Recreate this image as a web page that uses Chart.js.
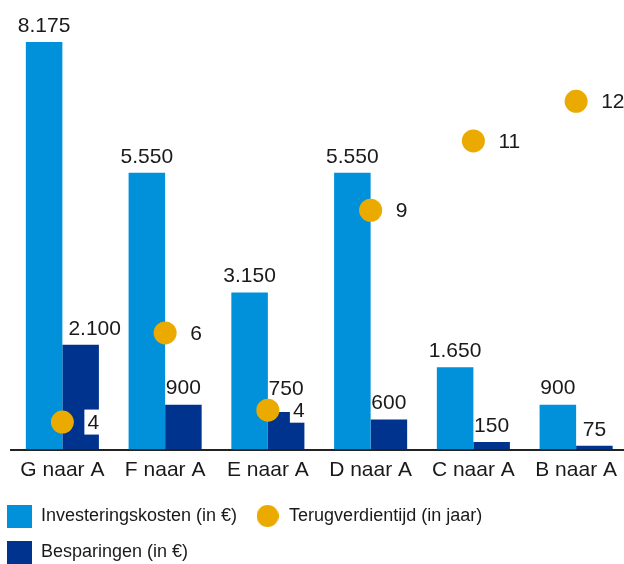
<!DOCTYPE html>
<html><head><meta charset="utf-8">
<script src="https://cdn.jsdelivr.net/npm/chart.js@4"></script>
<style>
html,body{margin:0;padding:0;overflow:hidden;background:#fff;width:624px;height:564px}
#wrap{position:absolute;left:-11px;top:0;width:650px;height:571px}
canvas{display:block}
</style></head><body>
<div id="wrap"><canvas id="c" width="650" height="571"></canvas></div>
<script>
const categories = ['G naar A','F naar A','E naar A','D naar A','C naar A','B naar A'];
const investeringskosten = [8175,5550,3150,5550,1650,900];
const besparingen = [2100,900,750,600,150,75];
const terugverdientijd = [3.9,6.15,4.2,9.25,11,12];
const seriesNames = ['Investeringskosten (in €)','Besparingen (in €)','Terugverdientijd (in jaar)'];
const colors = ['#0091DA','#00338D','#EAAA00'];

const TEXT = '#1a1a1a';
const FONT_FAMILY = '"Liberation Sans", Arial, sans-serif';

function fmt(v){ return String(v).replace(/\B(?=(\d{3})+(?!\d))/g,'.'); }
function swatch(color,w,h,round){
  const c=document.createElement('canvas'); c.width=w; c.height=h;
  const g=c.getContext('2d'); g.fillStyle=color;
  if(round){ g.beginPath(); g.arc(w/2,h/2,Math.min(w,h)/2,0,Math.PI*2); g.fill(); }
  else g.fillRect(0,0,w,h);
  return c;
}
const sw = [swatch(colors[0],25,23,false), swatch(colors[1],25,23,false), swatch(colors[2],22,22,true)];

const labelPlugin = {
  id:'valueLabels',
  afterDatasetsDraw(chart){
    const ctx = chart.ctx;
    ctx.save();
    ctx.font = '21px ' + FONT_FAMILY;
    ctx.textBaseline = 'middle';
    const pm = chart.getDatasetMeta(2);
    const r = 11.5;
    pm.data.forEach((p,i)=>{
      const txt = String(Math.round(terugverdientijd[i]));
      const w = ctx.measureText(txt).width;
      const x = p.x + 25, y = p.y;
      ctx.fillStyle = '#fff';
      ctx.fillRect(x-3, y-12.5, w+5, 25);
      ctx.fillStyle = TEXT; ctx.textAlign = 'left';
      ctx.fillText(txt, x, y+1);
    });
    [0,1].forEach(di=>{
      const meta = chart.getDatasetMeta(di);
      meta.data.forEach((bar,i)=>{
        const txt = fmt(chart.data.datasets[di].data[i]);
        const w = ctx.measureText(txt).width;
        const bw = bar.width, left = bar.x - bw/2;
        let x = bar.x;
        if (di===1 && w > bw) x = left + 6 + w/2;
        let y = bar.y - 16;
        const p = pm.data[i];
        if (p && Math.abs(p.x-x) < w/2 + r && Math.abs(p.y-y) < 8 + r) y = p.y - r - 9;
        ctx.fillStyle = TEXT; ctx.textAlign = 'center';
        ctx.fillText(txt, x, y);
      });
    });
    ctx.restore();
  }
};

new Chart(document.getElementById('c'), {
  type:'bar',
  data:{
    labels: categories,
    datasets:[
      {label:seriesNames[0], data:investeringskosten, backgroundColor:colors[0], borderWidth:0, yAxisID:'y', order:1, categoryPercentage:0.711, barPercentage:1},
      {label:seriesNames[1], data:besparingen, backgroundColor:colors[1], borderWidth:0, yAxisID:'y', order:1, categoryPercentage:0.711, barPercentage:1},
      {type:'line', label:seriesNames[2], data:terugverdientijd, yAxisID:'y2', showLine:false, order:0,
       pointRadius:11.5, pointHoverRadius:11.5, pointBackgroundColor:colors[2], pointBorderWidth:0, borderColor:colors[2], backgroundColor:colors[2]}
    ]
  },
  options:{
    responsive:false, animation:false, devicePixelRatio:1,
    layout:{padding:0},
    plugins:{
      tooltip:{enabled:false},
      legend:{
        position:'bottom', align:'start',
        labels:{
          usePointStyle:true, pointStyleWidth:25, boxHeight:18, padding:18, color:TEXT,
          font:{family:FONT_FAMILY, size:18},
          generateLabels:()=>[0,2,1].map(i=>({
            text:seriesNames[i], fillStyle:colors[i], strokeStyle:colors[i], lineWidth:0,
            pointStyle:sw[i], hidden:false, datasetIndex:i, fontColor:TEXT
          }))
        }
      }
    },
    scales:{
      x:{
        grid:{display:false, drawTicks:false},
        border:{display:true, color:'#222', width:2},
        ticks:{padding:8, color:TEXT, font:{family:FONT_FAMILY, size:21}, maxRotation:0, autoSkip:false},
        afterFit(s){ s.height = 39.5; }
      },
      y:{min:0, max:8787, ticks:{display:false}, grid:{display:false}, border:{display:false},
        afterFit(s){ s.width = 22; }},
      y2:{position:'right', min:3.207, max:14.27, display:false}
    }
  },
  plugins:[labelPlugin]
});
</script>
</body></html>
